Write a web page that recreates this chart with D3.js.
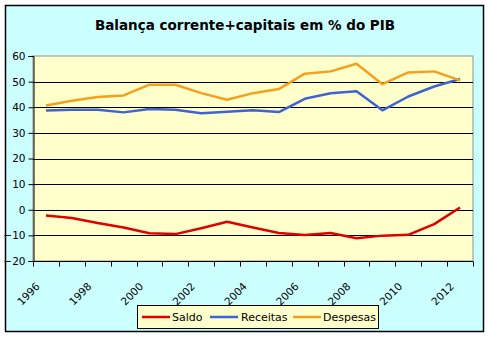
<!DOCTYPE html>
<html><head><meta charset="utf-8">
<script src="https://cdn.jsdelivr.net/npm/d3@7/dist/d3.min.js"></script>
<style>body{margin:0;background:#fff}svg{display:block}</style>
</head><body><svg id="c" width="490" height="341"></svg>
<script>
const years = [1996,1997,1998,1999,2000,2001,2002,2003,2004,2005,2006,2007,2008,2009,2010,2011,2012];
const saldo = [-2.2,-3.2,-5.2,-6.9,-9.2,-9.5,-7.2,-4.7,-6.9,-9.1,-9.9,-9.1,-11.1,-10.1,-9.8,-5.6,0.9];
const receitas = [38.7,39.0,39.0,38.0,39.3,39.0,37.7,38.2,38.8,38.1,43.3,45.5,46.2,38.8,44.2,48.1,51.0];
const despesas = [40.7,42.5,44.0,44.6,48.8,48.8,45.5,42.9,45.5,47.1,53.1,54.0,57.0,49.0,53.6,54.0,50.5];
const yTicks = [-20,-10,0,10,20,30,40,50,60];
const xLabels = [1996,1998,2000,2002,2004,2006,2008,2010,2012];
const seriesNames = ["Saldo","Receitas","Despesas"];
const colors = ["#E00000","#3F63D0","#F2A01E"];

const svg = d3.select("#c");
const font = "'DejaVu Sans', sans-serif";
svg.append("rect").attr("x",5.5).attr("y",5.5).attr("width",478).attr("height",326)
  .attr("fill","#CCFFFF").attr("stroke","#000").attr("stroke-width",1.5);
svg.append("text").attr("x",245).attr("y",30).attr("text-anchor","middle")
  .attr("font-family",font).attr("font-weight","bold").attr("font-size",13.5).text("Balança corrente+capitais em % do PIB");

const L=33,R=473,T=56,B=261;
const x = d3.scaleBand().domain(years).range([L,R]);
const y = d3.scaleLinear().domain([-20,60]).range([B,T]);
svg.append("rect").attr("x",L).attr("y",T).attr("width",R-L).attr("height",B-T).attr("fill","#FFFFCC")
  .attr("stroke","#909090").attr("stroke-width",1);
const g = svg.append("g");
g.selectAll("line.grid").data(yTicks.filter(d=>d>-20 && d<60)).join("line")
  .attr("x1",L).attr("x2",R).attr("y1",d=>Math.round(y(d))+0.5).attr("y2",d=>Math.round(y(d))+0.5)
  .attr("stroke","#000").attr("stroke-width",1);

const yAxis = svg.append("g").attr("transform",`translate(${L+0.5},0)`)
  .call(d3.axisLeft(y).tickValues(yTicks).tickSize(5).tickPadding(3));
yAxis.select(".domain").attr("stroke","#000");
yAxis.selectAll("text").attr("font-family",font).attr("font-size",10.5).attr("fill","#000");

const bounds = years.map(d=>x(d)).concat([R]);
const xAxisG = svg.append("g").attr("transform",`translate(0,${B+0.5})`);
xAxisG.append("line").attr("x1",L).attr("x2",R).attr("stroke","#000");
xAxisG.selectAll("line.t").data(bounds).join("line").attr("class","t")
  .attr("x1",d=>Math.round(d)+0.5).attr("x2",d=>Math.round(d)+0.5).attr("y1",0).attr("y2",5).attr("stroke","#000");
xAxisG.selectAll("text").data(xLabels).join("text")
  .attr("transform",d=>`translate(${x(d)+x.bandwidth()/2-8},${23}) rotate(-45)`)
  .attr("text-anchor","end").attr("dy","0.35em")
  .attr("font-family",font).attr("font-size",10.5).text(d=>d);

const line = d3.line().x((d,i)=>x(years[i])+x.bandwidth()/2).y(d=>y(d));
[saldo,receitas,despesas].forEach((s,i)=>{
  svg.append("path").datum(s).attr("d",line).attr("fill","none")
    .attr("stroke",colors[i]).attr("stroke-width",2.5).attr("stroke-linejoin","round");
});

const lg = svg.append("g");
lg.append("rect").attr("x",137.5).attr("y",305.5).attr("width",241).attr("height",23)
  .attr("fill","#FFFFCC").attr("stroke","#000").attr("stroke-width",1);
const lx = [142,210,293], tx=[172,241,323];
seriesNames.forEach((n,i)=>{
  lg.append("line").attr("x1",lx[i]).attr("x2",lx[i]+28).attr("y1",317).attr("y2",317)
    .attr("stroke",colors[i]).attr("stroke-width",2.5);
  lg.append("text").attr("x",tx[i]).attr("y",321).attr("font-family",font).attr("font-size",11).text(n);
});
</script></body></html>
